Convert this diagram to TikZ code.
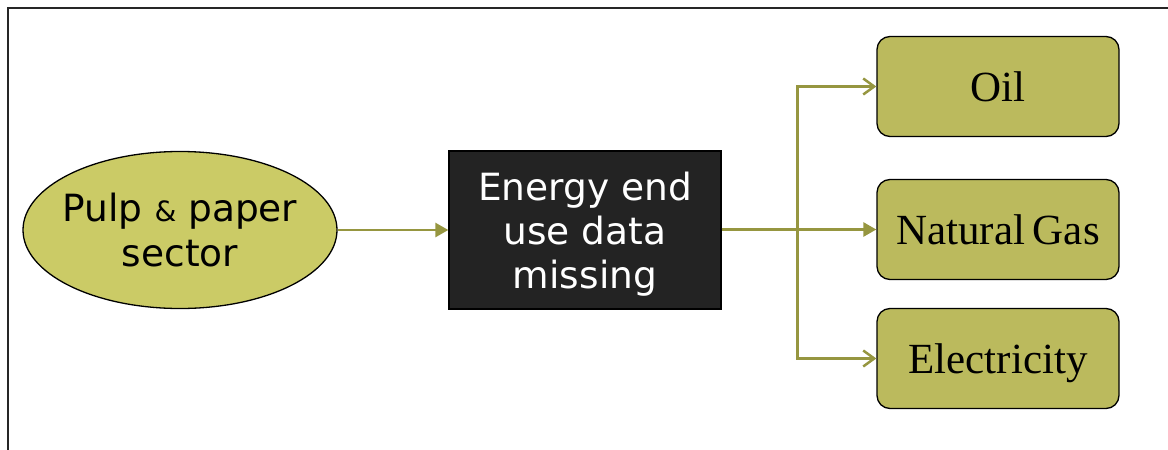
\documentclass[tikz,border=0pt]{standalone}
\usepackage{fontspec}
\usetikzlibrary{shapes.geometric,arrows.meta}
\newfontfamily\sansface{DejaVu Sans}
\newfontfamily\serifface{Liberation Serif}
\definecolor{ellfill}{HTML}{CBCB66}
\definecolor{boxfill}{HTML}{BBBA5D}
\definecolor{flowcol}{HTML}{969640}
\definecolor{darkbox}{HTML}{232323}
\tikzset{
  sector/.style={ellipse, draw=black, line width=1.3pt, fill=ellfill,
    minimum width=314pt, minimum height=157pt, inner xsep=-30pt, inner ysep=0pt,
    align=center, font=\sansface\fontsize{37.5}{45}\selectfont},
  gapbox/.style={rectangle, draw=black, line width=1.3pt, fill=darkbox,
    minimum width=272pt, minimum height=158pt, inner sep=0pt,
    text=white, align=center, text depth=0pt,
    font=\sansface\fontsize{37.5}{44}\selectfont},
  fuel/.style={rectangle, rounded corners=13pt, draw=black, line width=1.3pt,
    fill=boxfill, minimum width=242pt, minimum height=100pt, inner sep=0pt,
    text height=29pt, text depth=0pt,
    font=\serifface\fontsize{43}{48}\selectfont},
  flow/.style={draw=flowcol, line width=2.6pt},
  solidtip/.style={-{Triangle[length=13pt,width=14pt]}},
  opentip/.style={-{Straight Barb[length=11pt,width=16pt,line width=2.5pt]}}
}
\begin{document}
\begin{tikzpicture}[x=1pt,y=-1pt]
  \useasboundingbox (0,0) rectangle (1168,450);
  % outer frame (top and left edges)
  \draw[line width=1.6pt, black!85] (8,451) -- (8,8) -- (1169,8);

  % nodes
  \node[sector] (pulp) at (180,230) {Pulp {\fontsize{28}{28}\selectfont\&} paper\\sector};
  \node[gapbox] (gap) at (585,230) {Energy end\\use data\\missing};
  \node[fuel] (oil) at (998,86.5) {Oil};
  \node[fuel] (gas) at (998,229.5) {Natural\hspace{-3pt} Gas};
  \node[fuel] (elec) at (998,358.5) {Electricity};

  % connectors
  \coordinate (split) at (797.5,229.5);
  \draw[flow,solidtip] (pulp.east) -- (gap.west);
  \draw[flow,solidtip] (gap.east |- split) -- (gas.west);
  \draw[flow,opentip] (split) |- (oil.west);
  \draw[flow,opentip] (split) |- (elec.west);
\end{tikzpicture}
\end{document}
